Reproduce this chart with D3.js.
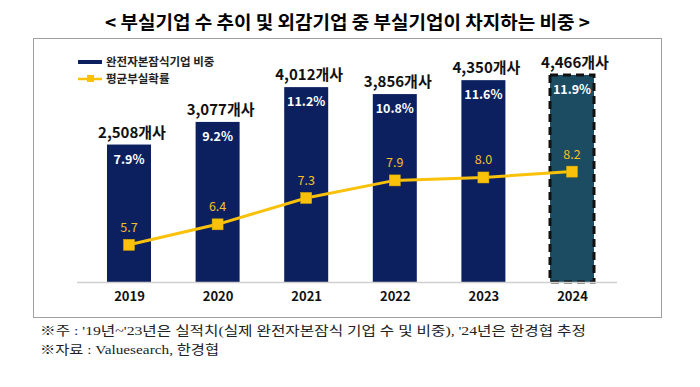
<!DOCTYPE html>
<html>
<head>
<meta charset="utf-8">
<script src="https://cdn.jsdelivr.net/npm/d3@7"></script>
<style>
  body { margin: 0; background: #fff; }
  text { font-family: "Noto Sans CJK KR", "Noto Sans", sans-serif; }
</style>
</head>
<body>
<div id="chart"></div>
<script>
// data
var years = ["2019", "2020", "2021", "2022", "2023", "2024"];
var counts = [2508, 3077, 4012, 3856, 4350, 4466];
var shares = [7.9, 9.2, 11.2, 10.8, 11.6, 11.9];   // 완전자본잠식기업 비중 (%)
var probs = [5.7, 6.4, 7.3, 7.9, 8.0, 8.2];        // 평균부실확률
var estimateYear = "2024";

var W = 700, H = 387;
var navy = "#0c2060", teal = "#1b4c62", gold = "#f9c10a";

var svg = d3.select("#chart")
  .append("svg")
  .attr("width", W)
  .attr("height", H);

// title
svg.append("text")
  .attr("x", 105)
  .attr("y", 29)
  .attr("textLength", 485)
  .attr("lengthAdjust", "spacingAndGlyphs")
  .style("font-size", "18px")
  .style("font-weight", "bold")
  .text("< 부실기업 수 추이 및 외감기업 중 부실기업이 차지하는 비중 >");

// frame
svg.append("rect")
  .attr("x", 33.5).attr("y", 38.5)
  .attr("width", 628).attr("height", 279)
  .attr("fill", "none")
  .attr("stroke", "#a0a0a0")
  .attr("stroke-width", 1);

var x = d3.scalePoint()
  .domain(years)
  .range([129, 572]);

var yBar = d3.scaleLinear()
  .domain([0, 14])
  .range([282, 38.4]);

var yLine = d3.scaleLinear()
  .domain([4.43, 12.75])
  .range([282, 38.4]);

var barW = 44;

var data = years.map(function(d, i) {
  return {year: d, count: counts[i], share: shares[i], prob: probs[i]};
});

// bars
svg.selectAll(".bar")
  .data(data)
  .enter()
  .append("rect")
  .attr("class", "bar")
  .attr("x", d => x(d.year) - barW / 2)
  .attr("y", d => yBar(d.share))
  .attr("width", barW)
  .attr("height", d => yBar(0) - yBar(d.share))
  .attr("fill", d => d.year == estimateYear ? teal : navy);

// dashed outline for estimate
var est = data.filter(d => d.year == estimateYear)[0];
svg.append("rect")
  .attr("x", x(est.year) - barW / 2)
  .attr("y", yBar(est.share))
  .attr("width", barW)
  .attr("height", yBar(0) - yBar(est.share))
  .attr("fill", "none")
  .attr("stroke", "#111")
  .attr("stroke-width", 3)
  .style("stroke-dasharray", "8,5");

// baseline
svg.append("line")
  .attr("x1", x(years[0]) - 52)
  .attr("x2", x(years[years.length - 1]) + 45)
  .attr("y1", yBar(0) + 0.5)
  .attr("y2", yBar(0) + 0.5)
  .style("stroke", "#d0d0d0")
  .style("stroke-width", 1.5);

// x axis
var xAxis = svg.append("g")
  .attr("transform", "translate(0," + (yBar(0) + 4) + ")")
  .call(d3.axisBottom(x).tickSize(0));
xAxis.select(".domain").remove();
xAxis.selectAll("text")
  .attr("dy", "0.9em")
  .style("font-family", "'Noto Sans CJK KR', sans-serif")
  .style("font-size", "13px")
  .style("font-weight", "bold")
  .style("fill", "#111");

// count labels
svg.selectAll(".count")
  .data(data)
  .enter()
  .append("text")
  .attr("class", "count")
  .attr("x", d => x(d.year) + 3)
  .attr("y", d => yBar(d.share) - 7)
  .attr("text-anchor", "middle")
  .style("font-size", "15px")
  .style("font-weight", "bold")
  .style("fill", "#111")
  .text(d => d3.format(",")(d.count) + "개사");

// share labels inside bars
svg.selectAll(".share")
  .data(data)
  .enter()
  .append("text")
  .attr("class", "share")
  .attr("x", d => x(d.year))
  .attr("y", d => yBar(d.share) + 19)
  .attr("text-anchor", "middle")
  .style("font-size", "12.5px")
  .style("font-weight", "bold")
  .style("fill", "#fff")
  .text(d => d.share.toFixed(1) + "%");

// line
svg.append("path")
  .datum(data)
  .attr("fill", "none")
  .attr("stroke", gold)
  .attr("stroke-width", 3)
  .attr("d", d3.line()
    .x(d => x(d.year))
    .y(d => yLine(d.prob)));

svg.selectAll(".marker")
  .data(data)
  .enter()
  .append("rect")
  .attr("class", "marker")
  .attr("x", d => x(d.year) - 5.5)
  .attr("y", d => yLine(d.prob) - 5.5)
  .attr("width", 11)
  .attr("height", 11)
  .attr("fill", gold)
  .attr("stroke", "#e0a800")
  .attr("stroke-width", 0.5);

svg.selectAll(".prob")
  .data(data)
  .enter()
  .append("text")
  .attr("class", "prob")
  .attr("x", d => x(d.year))
  .attr("y", d => yLine(d.prob) - 13)
  .attr("text-anchor", "middle")
  .style("font-size", "12.5px")
  .style("fill", "#f2c029")
  .text(d => d.prob.toFixed(1));

// legend
var legend = svg.append("g").attr("transform", "translate(78,0)");
legend.append("line")
  .attr("x1", 0).attr("x2", 24)
  .attr("y1", 62).attr("y2", 62)
  .style("stroke", navy)
  .style("stroke-width", 4);
legend.append("text")
  .attr("x", 28).attr("y", 66)
  .style("font-size", "11.5px")
  .style("font-weight", "bold")
  .style("fill", "#222")
  .text("완전자본잠식기업 비중");
legend.append("line")
  .attr("x1", 0).attr("x2", 24)
  .attr("y1", 79).attr("y2", 79)
  .style("stroke", gold)
  .style("stroke-width", 2.5);
legend.append("rect")
  .attr("x", 9).attr("y", 75)
  .attr("width", 7).attr("height", 7)
  .attr("fill", gold);
legend.append("text")
  .attr("x", 28).attr("y", 83)
  .style("font-size", "11.5px")
  .style("font-weight", "bold")
  .style("fill", "#222")
  .text("평균부실확률");

// footnotes
var notes = [
  "※주 : '19년~'23년은 실적치(실제 완전자본잠식 기업 수 및 비중), '24년은 한경협 추정",
  "※자료 : Valuesearch, 한경협"
];
var noteWidths = [546, 179];
svg.selectAll(".note")
  .data(notes)
  .enter()
  .append("text")
  .attr("class", "note")
  .attr("x", 40)
  .attr("y", (d, i) => 335 + i * 19)
  .attr("textLength", (d, i) => noteWidths[i])
  .attr("lengthAdjust", "spacingAndGlyphs")
  .style("font-family", "'Liberation Serif', 'Noto Sans CJK KR', serif")
  .style("font-size", "13px")
  .style("fill", "#222")
  .text(d => d);
</script>
</body>
</html>
